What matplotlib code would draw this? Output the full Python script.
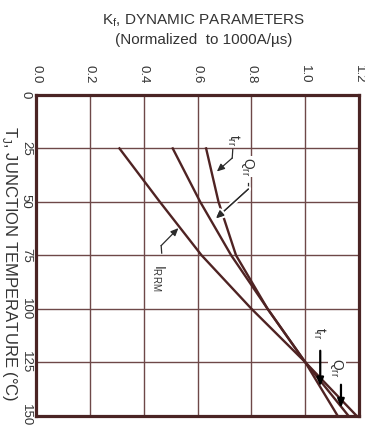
import matplotlib
matplotlib.use("Agg")
import matplotlib.pyplot as plt
import matplotlib.patheffects as pe

plt.rcParams['font.family'] = ['Liberation Sans', 'DejaVu Sans']

# junction temperature (deg C) and normalized parameters
temps = [25, 50, 75, 100, 125, 150]
irrm  = [0.31, 0.46, 0.615, 0.80, 1.0, 1.19]
qrr   = [0.508, 0.61, 0.725, 0.86, 1.0, 1.16]
trr   = [0.632, 0.678, 0.743, 0.86, 1.0, 1.12]

kf_ticks = [0.0, 0.2, 0.4, 0.6, 0.8, 1.0, 1.2]
tj_ticks = [0, 25, 50, 75, 100, 125, 150]

line_c = '#4f2323'
grid_c = '#6e4848'
arrow_c = '#2b2b2b'

fig = plt.figure(figsize=(3.65, 4.26), dpi=100)
ax = fig.add_axes([36/365, 1 - 415.5/426, (359 - 36)/365, (415.5 - 95)/426])

ax.plot(irrm, temps, color=line_c, lw=1.7, zorder=3)
ax.plot(qrr, temps, color=line_c, lw=1.7, zorder=3)
ax.plot(trr, temps, color=line_c, lw=1.7, zorder=3)

ax.set_xlim(0, 1.2)
ax.set_ylim(150, 0)
ax.set_xticks(kf_ticks)
ax.set_yticks(tj_ticks)
ax.set_xticklabels(['%.1f' % v for v in kf_ticks], rotation=270)
ax.set_yticklabels([str(v) for v in tj_ticks], rotation=270, va='center')
ax.xaxis.tick_top()
ax.tick_params(axis='x', length=0, pad=8.5, labelsize=9.5, labelcolor='#333333')
ax.tick_params(axis='y', length=0, pad=3, labelsize=9.5, labelcolor='#333333')
ax.grid(True, color=grid_c, lw=1.0)
ax.set_axisbelow(True)
for s in ax.spines.values():
    s.set_color('#4a2424')
    s.set_linewidth(2.3)

ax.set_ylabel(r'T$_\mathregular{J}$, JUNCTION TEMPERATURE (°C)', rotation=270,
              fontsize=12, color='#333333', ha='center', va='center')
ax.yaxis.set_label_coords(-0.083, 0.473)

fig.text(0.558, 0.952, r'K$_\mathregular{f}$, DYNAMIC PARAMETERS', ha='center',
         va='center', fontsize=11, color='#333333')
fig.text(0.558, 0.906, '(Normalized  to 1000A/µs)', ha='center', va='center',
         fontsize=11, color='#333333')

lab_kw = dict(rotation=270, ha='center', va='center', fontsize=10, color='#333333',
              bbox=dict(fc='white', ec='none', pad=0.5), zorder=4)
arr = dict(arrowstyle='-|>,head_length=0.45,head_width=0.2', color=arrow_c, lw=0.9,
           shrinkA=0, shrinkB=0)

# top labels with hooked arrows
ax.text(0.732, 21.0, r'$\mathregular{t_{rr}}$', **lab_kw)
ax.plot([0.731, 0.729], [25.5, 29.5], color=arrow_c, lw=0.9, zorder=5)
ax.annotate('', xy=(0.672, 35.8), xytext=(0.729, 29.5), arrowprops=arr, zorder=5)

ax.text(0.784, 33.5, r'$\mathregular{Q_{rr}}$', **lab_kw)
ax.plot([0.789, 0.789], [41.3, 44.0], color=arrow_c, lw=0.9, zorder=5)
a = ax.annotate('', xy=(0.669, 57.7), xytext=(0.789, 44.0), arrowprops=arr, zorder=5)
a.arrow_patch.set_path_effects([pe.withStroke(linewidth=4, foreground='white'), pe.Normal()])

ax.text(0.453, 85.5, r'$\mathregular{I_{RRM}}$', **lab_kw)
ax.plot([0.467, 0.465], [74.0, 70.5], color=arrow_c, lw=0.9, zorder=5)
ax.annotate('', xy=(0.529, 62.3), xytext=(0.465, 70.5), arrowprops=arr, zorder=5)

# bottom labels with straight arrows
arr2 = dict(arrowstyle='-|>,head_length=0.5,head_width=0.2', color='black', lw=1.6,
            shrinkA=0, shrinkB=0)
ax.text(1.052, 111.5, r'$\mathregular{t_{rr}}$', **lab_kw)
ax.annotate('', xy=(1.056, 136.4), xytext=(1.056, 119.7), arrowprops=arr2, zorder=5)
ax.text(1.118, 127.8, r'$\mathregular{Q_{rr}}$', **lab_kw)
ax.annotate('', xy=(1.133, 146.4), xytext=(1.133, 135.6), arrowprops=arr2, zorder=5)

fig.savefig('out.png', dpi=100)
